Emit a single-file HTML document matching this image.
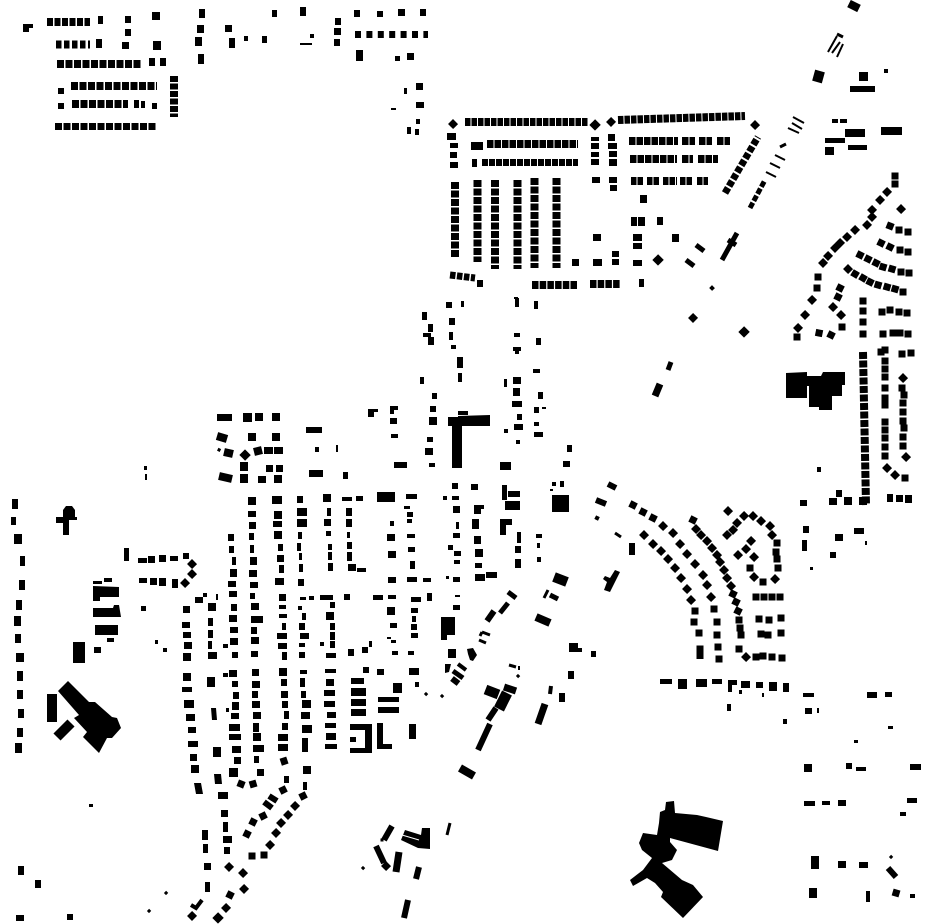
<!DOCTYPE html>
<html><head><meta charset="utf-8"><title>Figure-ground map</title>
<style>html,body{margin:0;padding:0;background:#fff}svg{display:block}</style></head>
<body>
<svg xmlns="http://www.w3.org/2000/svg" width="930" height="924" viewBox="0 0 930 924">
<rect width="930" height="924" fill="#fff"/>
<!-- large buildings -->
<path fill="#000" d="M786 373L807 372V376H821L823 372H845V385H842V396H832V410H819V407H809V386H807V398H786Z
M448 417H458V416L490 415V426H462V468H452V426H448Z
M68 681L89 702H95L112 717L117 718L121 728L112 738H107L99 753L83 737L87 732L74 718L79 715L58 691Z
M665 810L666 802L674 801L675 813L697 815L706 817L723 821L718 851L670 838V842L677 850L672 860L662 863L682 880L693 885L703 897L683 918L661 897L663 892L655 883L647 878L633 886L630 880L643 870L652 858L642 850L639 843L643 833L657 835L659 823L660 812Z
M350 724H372V753H350V748H365V730H350Z M377 723H383V744H392V749H377Z
M500 519H512V525H506V535H500Z M401 840L405 830L421 835L422 828H430V849L418 848Z
M93 586L119 587V597H100V601H93Z M93 608H113L114 605H119L121 617H93Z
M56 517H63V510L66 506H72L75 510V517H77V520H69V535H63V523H56Z
M569 643H578V648H582V652H569Z
M605 576L610 578L615 570L620 572L610 592L604 590L607 582L603 579Z
M467 649L473 648L477 655L473 661L470 660L468 654Z
M445 664H451L449 672L445 673Z"/>
<!-- axis-aligned buildings -->
<path fill="#000" d="M23 24H33V28H29V32H23Z M98 16H103V24H98Z M125 16H131V23H125Z M152 12H160V20H152Z M125 29H131V36H125Z M122 42H129V49H122Z M153 41H161V50H153Z M96 39H102V48H96Z
M149 58H155V66H149Z M160 58H166V66H160Z M58 88H64V94H58Z M58 103H64V109H58Z M134 100H139V108H134Z M141 101H145V108H141Z M152 103H157V109H152Z
M199 9H205V18H199Z M197 25H204V33H197Z M195 37H202V46H195Z M198 54H204V64H198Z M225 25H232V32H225Z M229 38H235V48H229Z M244 36H248V41H244Z M262 36H267V43H262Z M272 10H277V17H272Z M300 7H306V16H300Z M300 43H312V45H300Z M310 34H314V38H310Z M335 18H341V25H335Z M334 28H341V35H334Z M334 39H340V46H334Z M354 10H360V17H354Z M377 11H383V17H377Z M398 9H405V16H398Z M420 9H426V16H420Z M356 50H363V61H356Z M395 56H400V61H395Z M407 53H414V60H407Z M404 88H407V94H404Z M416 83H423V90H416Z M391 108H396V110H391Z M416 102H424V108H416Z M416 119H420V124H416Z M407 127H411V134H407Z M415 129H419V135H415Z
M447 133H456V140H447Z M450 143H458V148H450Z M450 152H457V158H450Z M450 162H458V168H450Z M471 142H483V150H471Z M472 159H477V167H472Z
M591 137H599V141H591Z M591 143H599V149H591Z M591 152H599V157H591Z M591 159H599V165H591Z M608 134H615V141H608Z M608 143H617V149H608Z M609 151H617V157H609Z M609 159H617V166H609Z M592 177H600V183H592Z M609 177H617V183H609Z M610 185H617V191H610Z
M640 195H647V203H640Z M631 217H637V226H631Z M638 217H645V226H638Z M657 217H663V225H657Z M593 234H601V241H593Z M633 234H642V241H633Z M633 243H642V249H633Z M672 234H679V242H672Z M612 251H619V257H612Z M593 259H602V266H593Z M612 259H619V265H612Z M572 259H579V266H572Z M633 260H642V266H633Z M477 280H483V287H477Z M639 279H644V287H639Z M514 297H518V299H514Z
M850 86H875V92H850Z M832 119H838V123H832Z M840 119H847V123H840Z M845 129H865V137H845Z M825 138H845V143H825Z M825 147H834V155H825Z M848 145H867V150H848Z M881 127H902V135H881Z M859 72H868V81H859Z M884 69H888V73H884Z
M817 467H821V472H817Z M800 500H807V506H800Z M836 490H842V497H836Z M829 498H837V505H829Z M844 497H852V505H844Z M859 497H867V505H859Z M887 494H893V502H887Z M896 495H903V502H896Z M905 495H912V503H905Z M803 526H809V533H803Z M802 540H807V551H802Z M835 534H843V541H835Z M854 528H864V534H854Z M865 541H867V545H865Z M830 552H836V558H830Z M810 567H813V570H810Z
M217 414H232V421H217Z M243 413H252V422H243Z M255 413H263V421H255Z M272 413H280V421H272Z M248 433H256V441H248Z M272 433H280V441H272Z M264 447H273V454H264Z M274 447H283V454H274Z M240 462H248V471H240Z M266 465H273V472H266Z M276 465H283V472H276Z M240 474H248V483H240Z M258 476H266V483H258Z M274 475H282V483H274Z
M306 427H322V433H306Z M315 447H319V452H315Z M336 445H338V452H336Z M309 470H323V477H309Z M343 472H348V479H343Z M368 409H378V412H374V417H368Z M390 406H398V410H394V414H390Z M390 418H397V424H390Z M391 434H398V438H391Z M394 462H407V468H394Z M430 406H436V412H430Z M429 417H437V425H429Z M427 437H433V442H427Z M425 448H433V455H425Z M429 463H435V467H429Z M458 411H468V415H458Z
M377 492H395V502H377Z M406 494H417V499H406Z M342 497H352V501H342Z M356 496H363V501H356Z M323 494H331V502H323Z M297 496H303V503H297Z M272 496H282V504H272Z M248 497H256V505H248Z M452 483H458V489H452Z M471 484H478V490H471Z M443 496H447V500H443Z M452 496H459V500H452Z M453 506H460V513H453Z M474 505H484V509H481V514H474Z M456 522H459V529H456Z M472 519H479V529H472Z M453 533H460V538H453Z M474 536H481V544H474Z M448 545H453V550H448Z M454 551H461V556H454Z M475 549H483V557H475Z M454 560H460V564H454Z M475 563H482V568H475Z M475 574H485V581H475Z M486 572H497V578H486Z M453 577H460V582H453Z M446 576H449V579H446Z
M404 506H410V509H404Z M407 512H413V517H407Z M407 519H412V523H407Z M407 534H415V538H407Z M408 547H415V552H408Z M410 561H415V569H410Z M407 577H417V582H407Z M423 578H431V582H423Z M390 521H394V526H390Z M387 534H395V541H387Z M388 551H396V558H388Z M388 577H396V583H388Z
M327 508H331V516H327Z M324 519H331V526H324Z M326 531H331V536H326Z M328 544H332V550H328Z M328 552H332V560H328Z M328 563H333V571H328Z M346 508H352V516H346Z M346 519H352V527H346Z M347 532H350V538H347Z M347 542H352V549H347Z M347 552H352V561H347Z M348 564H356V571H348Z M357 568H366V572H357Z
M297 508H307V516H297Z M297 519H307V527H297Z M298 532H302V539H298Z M297 543H301V551H297Z M299 553H302V560H299Z M299 564H303V572H299Z M298 579H304V586H298Z M274 511H282V519H274Z M273 521H282V527H273Z M274 531H282V539H274Z M278 544H283V551H278Z M277 555H284V562H277Z M279 565H284V573H279Z M275 578H284V585H275Z M248 511H256V517H248Z M249 522H256V529H249Z M249 533H254V540H249Z M250 545H254V553H250Z M250 557H257V565H250Z M249 570H257V577H249Z M250 582H258V588H250Z M228 534H234V541H228Z M229 546H234V553H229Z M232 557H236V565H232Z M230 569H237V577H230Z M228 581H236V587H228Z M229 591H237V597H229Z
M195 597H203V603H195Z M203 593H207V597H203Z M216 594H218V600H216Z M250 593H255V599H250Z M279 594H286V601H279Z M300 597H306V600H300Z M309 596H314V600H309Z M320 595H333V600H320Z M344 594H350V600H344Z M373 595H383V600H373Z M388 595H396V599H388Z M411 597H421V602H411Z M427 593H432V601H427Z M455 595H460V597H455Z M453 605H460V610H453Z
M183 606H190V613H183Z M182 622H190V628H182Z M183 632H191V638H183Z M184 642H192V649H184Z M183 653H191V661H183Z M208 603H216V611H208Z M208 618H213V626H208Z M208 630H213V638H208Z M208 641H212V649H208Z M208 652H217V659H208Z M223 644H228V648H223Z
M231 604H237V611H231Z M229 615H237V622H229Z M230 627H238V633H230Z M230 638H238V645H230Z M232 652H238V658H232Z M251 603H259V610H251Z M251 616H263V623H251Z M251 627H257V634H251Z M251 637H259V644H251Z M251 651H258V657H251Z
M279 605H286V609H279Z M279 614H287V618H279Z M282 623H286V630H282Z M277 633H287V639H277Z M278 643H287V649H278Z M282 652H287V660H282Z M298 606H302V610H298Z M302 613H306V620H302Z M299 623H305V630H299Z M300 633H309V639H300Z M299 643H305V647H299Z M299 652H305V658H299Z M330 602H335V608H330Z M326 612H334V620H326Z M330 623H335V630H330Z M330 632H335V640H330Z M330 641H335V648H330Z M326 653H336V658H326Z M320 642H324V646H320Z
M348 649H354V656H348Z M362 647H368V653H362Z M369 641H372V647H369Z M387 637H391V639H387Z M391 640H396V643H391Z M392 651H398V655H392Z M408 651H414V655H408Z M387 607H395V615H387Z M390 623H397V628H390Z M411 608H418V613H411Z M412 616H416V622H412Z M411 624H417V630H411Z M411 633H418V638H411Z
M441 617H455V635H447V640H441Z M448 649H456V658H448Z
M183 673H191V681H183Z M182 687H192V692H182Z M184 700H194V708H184Z M186 714H195V721H186Z M188 727H196V733H188Z M188 741H198V747H188Z M190 754H197V761H190Z M191 765H199V773H191Z M194 783H201L203 794H196Z M207 677H215V687H207Z M211 708H216L217 720H212Z M213 747H221V757H213Z M214 774H221L222 784H215Z M223 673H228V677H223Z M226 708H229V712H226Z M218 792H228V799H218Z
M229 670H237V677H229Z M232 681H238V687H232Z M233 692H239V699H233Z M232 702H239V710H232Z M231 713H239V719H231Z M229 724H240V731H229Z M229 734H241V740H229Z M232 746H241V753H232Z M234 757H241V764H234Z M229 768H238V777H229Z M257 769H264V776H257Z
M252 669H259V676H252Z M252 681H260V688H252Z M252 691H258V698H252Z M252 701H260V708H252Z M253 712H261V719H253Z M253 723H259V732H253Z M253 733H261V741H253Z M253 745H264V752H253Z M254 756H259V763H254Z
M279 668H287V676H279Z M281 679H287V686H281Z M281 691H288V698H281Z M282 701H288V708H282Z M284 711H289V719H284Z M282 723H288V730H282Z M278 734H288V741H278Z M278 744H288V751H278Z M284 776H289V783H284Z
M300 670H307V674H300Z M300 678H305V687H300Z M301 691H306V698H301Z M302 700H311V708H302Z M301 712H310V719H301Z M302 725H312V733H302Z M302 738H308V752H302Z M303 766H311V774H303Z M303 782H307V790H303Z
M325 669H336V673H325Z M326 679H334V686H326Z M324 690H335V696H324Z M324 701H335V707H324Z M327 712H336V718H327Z M325 723H336V728H325Z M326 733H336V740H326Z M325 744H337V749H325Z
M351 678H364V684H351Z M351 688H366V696H351Z M351 699H366V706H351Z M351 709H366V716H351Z M363 667H369V673H363Z M377 669H384V675H377Z M393 683H402V693H393Z M378 697H399V702H378Z M378 707H399V713H378Z M350 737H356V742H350Z M409 724H416V739H409Z M409 668H419V675H409Z M415 682H419V687H415Z
M502 485H507V500H502Z M508 491H520V497H508Z M505 501H520V510H505Z M517 532H521V543H517Z M515 546H521V553H515Z M515 559H521V568H515Z M536 534H542V538H536Z M537 543H540V548H537Z M537 557H541V562H537Z M552 482H556V486H552Z M560 481H564V487H560Z M550 489H553V491H550Z M552 495H569V512H552Z M559 693H565V702H559Z M568 671H574V679H568Z M591 651H596V657H591Z M629 543H635V555H629Z
M12 499H18V509H12Z M11 517H16V525H11Z M14 534H22V544H14Z M20 556H25V566H20Z M19 580H25V590H19Z M16 600H22V610H16Z M14 616H21V626H14Z M15 634H21V643H15Z M16 653H24V662H16Z M17 671H23V681H17Z M17 690H23V699H17Z M18 709H24V718H18Z M17 728H23V737H17Z M15 743H22V753H15Z
M124 548H129V561H124Z M138 558H147V563H138Z M148 556H155V563H148Z M159 555H166V562H159Z M170 556H178V561H170Z M183 553H189V559H183Z M172 579H178V588H172Z M159 578H166V586H159Z M150 578H157V585H150Z M139 578H147V583H139Z M93 581H102V584H93Z M104 578H112V582H104Z M95 625H118V635H95Z M107 638H114V642H107Z M94 647H101V653H94Z M141 606H146V611H141Z M155 640H158V644H155Z M163 648H167V652H163Z M73 642H85V663H73Z M47 694H57V722H47Z
M202 830H208V840H202Z M221 810H228V817H221Z M223 822H228V832H223Z M223 836H232V843H223Z M224 847H230V854H224Z M203 844H208V853H203Z M204 863H211V870H204Z M205 882H210V892H205Z
M660 679H672V684H660Z M678 679H687V689H678Z M696 679H707V687H696Z M712 679H722V684H712Z M728 680H737V685H732V692H728Z M741 681H750V688H741Z M756 682H763V688H756Z M769 682H777V691H769Z M783 683H789V692H783Z M739 690H742V694H739Z M762 693H764V697H762Z M727 704H731V711H727Z M783 719H787V724H783Z
M803 693H814V697H803Z M867 692H877V698H867Z M885 692H892V697H885Z M805 708H812V714H805Z M817 708H819V713H817Z M888 726H893V729H888Z M854 740H858V743H854Z M804 764H812V772H804Z M846 763H852V769H846Z M856 767H866V771H856Z M910 764H921V770H910Z M804 801H815V806H804Z M822 801H830V805H822Z M838 800H846V806H838Z M907 798H917V803H907Z M900 812H906V816H900Z M811 856H819V869H811Z M838 861H846V868H838Z M859 862H868V868H859Z M809 888H817V898H809Z M866 891H870V902H866Z M910 894H915V898H910Z
M18 866H24V875H18Z M35 880H41V888H35Z M16 915H24V921H16Z M67 914H73V920H67Z M89 804H93V807H89Z M144 466H147V470H144Z M145 474H147V480H145Z
M446 302H452V308H446Z M461 301H464V307H461Z M422 312H427V320H422Z M449 318H455V325H449Z M428 324H433V332H428Z M449 332H453V340H449Z M423 333H431V337H423Z M428 337H434V345H428Z M451 345H456V349H451Z M457 357H463V368H457Z M458 373H462V382H458Z M420 377H424V384H420Z M432 393H437V399H432Z
M515 298H519V307H515Z M534 301H538V309H534Z M514 333H520V337H514Z M536 338H541V345H536Z M513 347H521V351H519V354H515V351H513Z M533 369H540V373H533Z M513 377H521V384H513Z M504 379H507V387H504Z M513 388H520V396H513Z M538 392H543V399H538Z M512 401H522V407H512Z M534 407H539V413H534Z M542 407H546V409H542Z M517 414H522V420H517Z M534 422H539V426H534Z M514 424H523V430H514Z M534 432H543V437H534Z M504 429H508V433H504Z M516 440H520V444H516Z M567 445H572V452H567Z M563 461H570V467H563Z M500 462H511V470H500Z"/>
<g fill="none" stroke="#000">
<!-- regular rows drawn as dashed runs -->
<g stroke-width="8">
<path stroke-dasharray="6 1.5" d="M47 22H90"/>
<path stroke-dasharray="5.5 2.5" d="M56 44.5H90"/>
<path stroke-dasharray="7 1.5" d="M57 64H142M71 86H157M72 104H128"/>
<path stroke-dasharray="6 1.5" d="M174 76V117"/>
<path stroke-dasharray="5.5 1" d="M618 120L745 116M465 122H588"/>
<path stroke-dasharray="6.5 1" d="M487 144H578M629 141H678M682 141H695M699 141H712M717 141H730M630 159H677M682 159H693M698 159H718"/>
<path stroke-dasharray="5.5 1" d="M631 181H643M647 181H660M663 181H677M680 181H693M697 181H708"/>
<path stroke-dasharray="6.5 1.2" d="M532 285H578M590 284H620"/>
<path stroke-dasharray="7 1.5" d="M455 182V258M477.5 180V262M495 180V269M517.5 180V269M534.5 178V268M556.5 178V268M863 352L866 505"/>
</g>
<path stroke-width="7" stroke-dasharray="7 1.5" d="M55 126.5H157"/>
<path stroke-width="7" stroke-dasharray="6 5.4" d="M355 34.5H428"/>
<path stroke-width="7" stroke-dasharray="6 1" d="M482 162.5H578"/>
<path stroke-width="7" stroke-dasharray="5.5 1.5" d="M450 275L475 278"/>
<path stroke-width="7" stroke-dasharray="6 2" d="M725 193L758 137"/>
<path stroke-width="5" stroke-dasharray="6 2" d="M750 208L765 180"/>
<!-- rotated slabs -->
<path stroke-width="2" d="M828 52L837 36M832 53L840 42M837 57L843 44M788 128L799 133M792 123L802 129M793 117L804 123M775 155L785 160M770 163L780 168M766 172L776 177M519 666V670"/>
<path stroke-width="3" d="M837 34L843 37M780 147L786 144M615 533L621 537M544 598L548 590M479 640L486 643M450 823L447 835M509 665L516 667M482 632L490 635M482 632L480 636"/>
<path stroke-width="4" d="M551 686L550 694M458 664L466 670M202 900L196 908L191 905"/>
<path stroke-width="5" d="M722 260L737 233M728 240L736 245M550 595L558 599M453 671L463 678M508 592L516 598M500 613L508 603M671 362L668 370M696 245L704 251M686 260L694 266"/>
<path stroke-width="6" d="M608 484L616 488M596 500L606 504M452 678.5L458.5 683.5M487 621L494 611M384 840L392 826M376 846L384 863M419 867L416 879M404 918L408 900M496 708L488 720M490 724L478 750M269 796L277 801M264 802L272 808M888 868L896 877"/>
<path stroke-width="7" d="M538 724L545 704M399 852L396 872M660 384L655 396M504 687L516 691"/>
<path stroke-width="8" d="M460 768L474 776M849 3.5L859 8.5M536 617L550 623M217 436L227 439M224 452L233 454M219 476L232 479M254 452L262 450"/>
<path stroke-width="10" d="M554 577L567 582M485.5 689.5L498.5 694.5M820 71L817 82M57 737L71 723"/>
<path stroke-width="11" d="M507 693L499 709"/>
<path stroke="#fff" stroke-width="1" d="M402 835L419 840"/>
</g>
<!-- individual houses as square-capped dots -->
<g fill="none" stroke="#000" stroke-linecap="square">
<g stroke-width="7">
<path d="M895 176h.01M895 184h.01M887 192l.1-.1M880 200l.1-.1M872 210l.1-.1M872 217l.1-.1M867 225l.1-.1M855 230l.1-.1M847 237l.1-.1M840 243l.1-.1M835 248l.1-.1M828 256l.1-.1M823 263l.1-.1M818 277h.01M817 288h.01M812 300l.1-.1M805 315l.1-.1M798 328l.1-.1M797 337h.01"/>
<path d="M901 209l.1.1M890 226l.1.04M899 230h.01M908 232h.01M881 243l.1.05M890 247l.1.05M900 250h.01M908 252h.01"/>
<path d="M860 255l.1.05M868 259l.1.05M876 263l.1.05M883 267l.1.03M892 269l.1.03M901 272h.01M909 273h.01M848 269l.1.1M855 274l.1.06M863 278l.1.06M870 282l.1.05M878 285l.1.03M887 287l.1.03M895 289l.1.03M903 292h.01"/>
<path d="M840 288l.1.05M838 297l.1.05M833 307l.1.1M841 315l.1.1M842 327h.01M831 335l.1.05M819 333l.1.02M863 301h.01M863 311h.01M863 322h.01M863 334h.01M882 312h.01M890 310h.01M899 312h.01M907 313h.01M883 334h.01M893 333h.01M900 333h.01M908 334h.01"/>
<path d="M881 352h.01M885 350h.01M885 361h.01M885 369h.01M885 377h.01M885 388h.01M885 398h.01M885 405h.01M885 422h.01M885 430h.01M885 438h.01M885 447h.01M885 456h.01M887 468l.1.1M895 475l.1.1M905 478h.01M902 354h.01M911 353h.01M903 378l.1.1M902 388h.01M904 395h.01M903 403h.01M903 412h.01M903 421h.01M904 428h.01M903 437h.01M903 446h.01M906 457l.1.1"/>
<path d="M633 505l.1.05M643 512l.1.05M653 518l.1.05M663 526l.1.1M673 533l.1.1M680 544l.1.1M687 554l.1.1M695 564l.1.1M703 575l.1.1M707 585l.1.1M711 597l.1.1M714 609h.01M717 622h.01M717 635v.01M718 647v.01M719 659h.01"/>
<path d="M644 535l.1.1M653 544l.1.1M661 551l.1.1M668 559l.1.1M675 568l.1.1M681 578l.1.1M687 589l.1.1M691 600l.1.1M695 611h.01M694 622h.01M699 633h.01M700 649v.5M700 655v.5"/>
<path d="M693 520l.1.05M696 529l.1.1M701 535l.1.1M707 541l.1.1M712 548l.1.1M717 555l.1.1M720 562l.1.1M724 570l.1.1M727 578l.1.1M731 586l.1.1M733 594l.1.05M736 602l.1.05M738 611l.1.05M739 620h.01M740 628h.01M741 635h.01M739 649h.01M746 657l.1.1M756 657h.01M763 656h.01M772 657h.01M782 658h.01"/>
<path d="M728 511l.1.1M727 535l.1-.1M733 530l.1-.1M737 523l.1-.1M744 516l.1-.1M753 516l.1.1M761 521l.1.1M770 526l.1.1M772 535l.1.1M777 543h.01M776 552h.01M777 559h.01M778 568h.01M775 579l.1.1M763 582h.01M754 577l.1.1M750 568h.01M754 557l.1.1M746 549l.1.1M751 541l.1-.1M738 555l.1.1"/>
<path d="M756 597h.01M764 597h.01M772 597h.01M780 597h.01M759 619h.01M769 620h.01M781 618h.01M761 634h.01M768 635h.01M781 633h.01"/>
<path d="M453 124l.1.1M611 122l.1-.1M755 125l.1.1M192 564l.1.1M192 574l.1.1M185 583l.1.1"/>
<path d="M283 790l.1-.05M303 796l.1-.05M241 784l.1.04M253 784l.1-.03M284 761l.1.3M229 867l.1-.1M295 806l.1-.1M288 815l.1-.1M281 823l.1-.1M276 833l.1-.1M270 845l.1-.1M263 816l.1-.05M253 822l.1.05M247 834l.1.05M264 855h.01M252 856h.01M243 873l.1.1M244 889l.1-.1M230 895l.1.05M226 908l.1-.1M192 916l.1-.1M386 866l.1.1M693 318l.1-.1M896 893l.1.03"/>
</g>
<path stroke-width="8" d="M245 455l.1.1M658 260l.1-.1M595 125l.1-.1M744 332l.1-.1M218 918l.1-.1"/>
<path stroke-width="4" d="M597 518l.1.05M712 288l.1.1"/>
<path stroke-width="3" d="M426 694l.1.1M442 696l.1.1M518 676l.1.1M363 868l.1.1M891 857l.1-.1M166 893l.1-.1M149 911l.1-.1M219 450l.1-.2M382 840h.01"/>
</g>
</svg>
</body></html>
